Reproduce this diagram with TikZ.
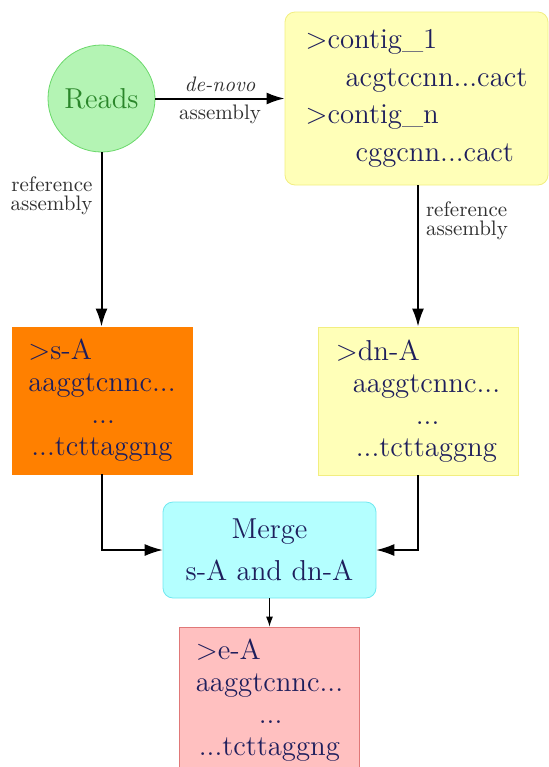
\documentclass[tikz,border=0pt]{standalone}
\usepackage{tikz}
\usetikzlibrary{arrows.meta}
\definecolor{readsfill}{HTML}{B4F4B4}
\definecolor{readsline}{HTML}{6AD86A}
\definecolor{readsink}{HTML}{2A862A}
\definecolor{contigfill}{HTML}{FFFFB8}
\definecolor{contigline}{HTML}{F2EE80}
\definecolor{sfill}{HTML}{FF8000}
\definecolor{mergefill}{HTML}{B4FFFF}
\definecolor{mergeline}{HTML}{70E8F0}
\definecolor{efill}{HTML}{FFC0C0}
\definecolor{eline}{HTML}{E07878}
\definecolor{seqink}{HTML}{1E1E5C}
\definecolor{tagink}{HTML}{303030}

\begin{document}
\begin{tikzpicture}[x=0.5pt, y=-0.5pt,
        reads/.style={circle, draw=readsline, fill=readsfill, text=readsink, minimum size=53.5pt, inner sep=0pt, font=\fontsize{14.4}{18}\selectfont},
        seqbox/.style={draw, align=left, text=seqink, inner sep=0pt, font=\fontsize{14.4}{16}\selectfont, minimum width=90pt, minimum height=73.5pt},
        tag/.style={font=\fontsize{10.5}{9.5}\selectfont, text=tagink, inner sep=0pt},
        arrow/.style={-{Latex[length=9pt,width=6pt]}, line width=1pt},
        feed/.style={-{Latex[length=9pt,width=6pt]}, line width=0.6pt},
        small arrow/.style={-{Latex[length=5pt,width=3.5pt]}, line width=0.5pt}
    ]
        \clip (0,0) rectangle (549,767);

        \node (reads) [reads] at (101.5,98.5) {Reads};
        \node (contig) [seqbox, rounded corners=5pt, fill=contigfill, draw=contigline, minimum width=131.5pt, minimum height=86.5pt, font=\fontsize{14.4}{18.75}\selectfont] at (416.5,98.5)
            {$>$contig\_1\\ \hspace*{20pt}acgtccnn...cact\\ $>$contig\_n\\ \hspace*{25pt}cggcnn...cact};
        \node (sA) [seqbox, fill=sfill, draw=sfill] at (102,400.5)
            {$>$s-A\\ aaggtcnnc...\\ \hspace*{31.5pt}...\\ \hspace*{1.5pt}...tcttaggng};
        \node (dnA) [seqbox, fill=contigfill, draw=contigline, minimum width=100pt, minimum height=74pt] at (418,401)
            {$>$dn-A\\ \hspace*{8.5pt}aaggtcnnc...\\ \hspace*{40pt}...\\ \hspace*{10pt}...tcttaggng};
        \node (merge) [seqbox, align=center, rounded corners=5pt, fill=mergefill, draw=mergeline, minimum width=106.5pt, minimum height=48pt, font=\fontsize{14.4}{21}\selectfont] at (269.5,550)
            {Merge\\ s-A and dn-A};
        \node (eA) [seqbox, fill=efill, draw=eline] at (269.5,700.5)
            {$>$e-A\\ aaggtcnnc...\\ \hspace*{31.5pt}...\\ \hspace*{1.5pt}...tcttaggng};

        \draw [arrow] (reads) -- node[tag, above=2.7pt] {\textit{de-novo}} node[tag, below=2.5pt] {assembly} (contig);
        \draw [arrow] (reads) -- node[tag, left=4pt, pos=0.25, align=right] {reference\\assembly} (reads |- sA.north);
        \draw [arrow] (contig.south -| dnA) -- node[tag, right=3.5pt, pos=0.25, align=left] {reference\\assembly} (dnA);
        \draw [feed] (sA) |- (merge);
        \draw [feed] (dnA) |- (merge);
        \draw [small arrow] (merge) -- (eA);
    \end{tikzpicture}
\end{document}
